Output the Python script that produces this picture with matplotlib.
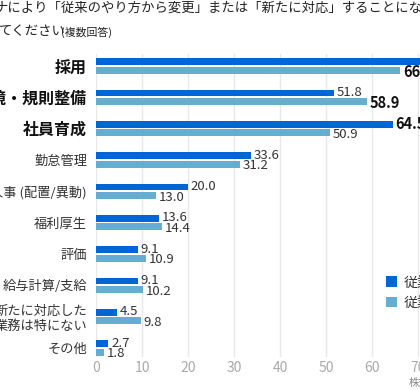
import matplotlib
matplotlib.use("Agg")
import matplotlib.pyplot as plt
from matplotlib.patches import Patch
import numpy as np

plt.rcParams['font.family'] = ['Noto Sans CJK JP', 'DejaVu Sans']

categories = ["採用", "職場環境・規則整備", "社員育成", "勤怠管理", "人事 (配置/異動)",
              "福利厚生", "評価", "給与計算/支給", "新たに対応した\n業務は特にない", "その他"]
series_a = [72.0, 51.8, 64.5, 33.6, 20.0, 13.6, 9.1, 9.1, 4.5, 2.7]
series_b = [66.1, 58.9, 50.9, 31.2, 13.0, 14.4, 10.9, 10.2, 9.8, 1.8]
series_names = ["従業員100人以上", "従業員100人未満"]
bold_cats = ["採用", "職場環境・規則整備", "社員育成"]
bold_a = [True, False, True, False, False, False, False, False, False, False]
bold_b = [True, True, False, False, False, False, False, False, False, False]
xticks = [0, 10, 20, 30, 40, 50, 60, 70, 80]

c_a = "#0066d6"
c_b = "#66aed0"

W, H = 420, 390
fig = plt.figure(figsize=(W / 100, H / 100), dpi=100)
left = 96 / W
width = 80 * 4.6 / W
top = 1 - 54 / H
bottom = 1 - 357 / H
ax = fig.add_axes([left, bottom, width, top - bottom])

y = np.arange(len(categories))
h = 0.215
off = 0.135
ax.barh(y - off, series_a, height=h, color=c_a, zorder=3)
ax.barh(y + off, series_b, height=h, color=c_b, zorder=3)

for i in range(len(categories)):
    ax.text(series_a[i] + 0.6, y[i] - off - 0.02, f"{series_a[i]:.1f}", va="center", ha="left",
            fontsize=10.5 if bold_a[i] else 9.5, fontweight="bold" if bold_a[i] else "normal",
            color="#111111" if bold_a[i] else "#333333", zorder=4)
    ax.text(series_b[i] + 0.6, y[i] + off + 0.05, f"{series_b[i]:.1f}", va="center", ha="left",
            fontsize=10.5 if bold_b[i] else 9.5, fontweight="bold" if bold_b[i] else "normal",
            color="#111111" if bold_b[i] else "#333333", zorder=4)

ax.set_ylim(9.29, -0.38)
ax.set_xlim(0, 80)
ax.set_yticks(y)
ax.set_yticklabels(categories)
for lab in ax.get_yticklabels():
    if lab.get_text() in bold_cats:
        lab.set_fontweight("bold")
        lab.set_fontsize(11.5)
        lab.set_color("#111111")
    else:
        lab.set_fontsize(9.5)
        lab.set_color("#333333")
ax.tick_params(axis="y", length=0, pad=6.5)
ax.set_xticks(xticks)
ax.tick_params(axis="x", length=0, pad=3, labelsize=10, labelcolor="#aaaaaa")
ax.grid(axis="x", color="#e8e8e8", lw=1, zorder=0)
for s in ax.spines.values():
    s.set_visible(False)

fig.text(-5 / W, 1 - 8 / H, "ナにより「従来のやり方から変更」または「新たに対応」することになった業務を教え",
         fontsize=9.6, va="center", ha="left", color="#222222")
fig.text(-1 / W, 1 - 31 / H, "てください", fontsize=9.6, va="center", ha="left", color="#222222")
fig.text(61 / W, 1 - 32 / H, "(複数回答)", fontsize=7.8, va="center", ha="left", color="#222222")

handles = [Patch(facecolor=c_a), Patch(facecolor=c_b)]
fig.legend(handles, series_names, loc="upper left", bbox_to_anchor=(380 / W, 1 - 270 / H),
           frameon=False, fontsize=10, handlelength=0.8, handleheight=0.8,
           labelspacing=0.45, handletextpad=0.5, borderaxespad=0, labelcolor="#333333")

fig.text(409 / W, 1 - 383 / H, "株式会社調べ", fontsize=7.5, va="center", ha="left", color="#888888")

fig.savefig("out.png", dpi=100)
